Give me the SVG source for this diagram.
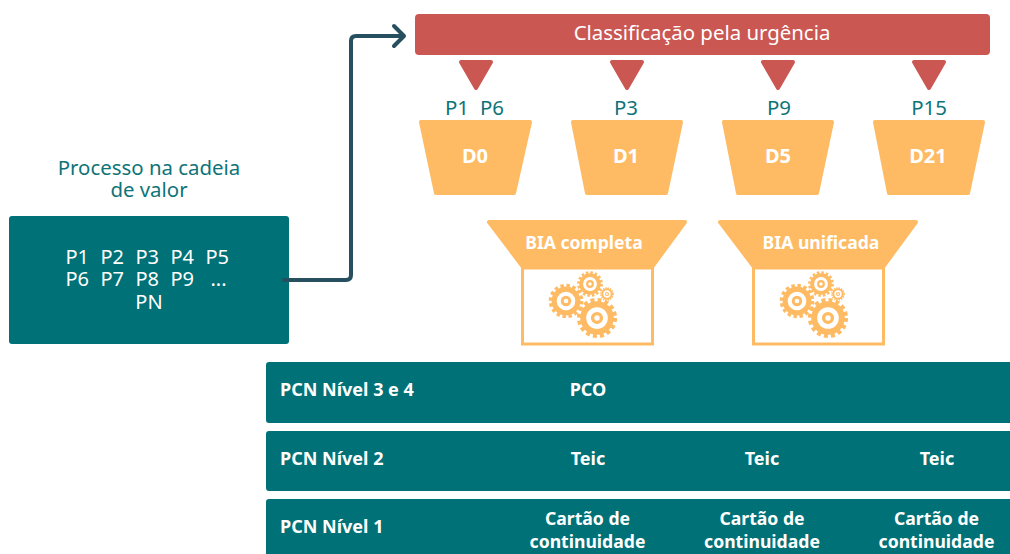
<svg xmlns="http://www.w3.org/2000/svg" width="1010" height="554" viewBox="0 0 1010 554">
<style>
text{font-family:"Noto Sans","Open Sans",sans-serif}
.c{text-anchor:middle}
.teal{fill:#007176}
.tl{fill:#0e7479;font-size:20.4px}
.w{fill:#fff}
.wb{fill:#fff;font-weight:700;font-size:18px}
.wn{fill:#fff;font-weight:700;font-size:17.6px}
.red{fill:#cb5753;stroke:#cb5753;stroke-width:4;stroke-linejoin:round}
.org{fill:#febb64;stroke:#febb64;stroke-width:4;stroke-linejoin:round}
.d{fill:#fff;font-weight:700;font-size:20px}
.box{fill:#fff;stroke:#febb64;stroke-width:3}
.conn{fill:none;stroke:#264f5f;stroke-width:4;stroke-linecap:round;stroke-linejoin:round}
</style>
<defs>
<g id="gear" fill="none" stroke="#febb64">
<circle r="17.8" stroke-width="4.6" stroke-dasharray="3.9 3.09"/>
<circle r="13.8" stroke-width="6"/>
<circle r="4.4" stroke-width="3.4"/>
</g>
<g id="gears">
<use href="#gear" transform="translate(597 318)"/>
<use href="#gear" transform="translate(566 301) scale(.86)"/>
<use href="#gear" transform="translate(590 284) scale(.64)"/>
<use href="#gear" transform="translate(607 294) scale(.34)"/>
</g>
</defs>
<g id="processo">
<text class="c tl" x="149" y="175">Processo na cadeia</text>
<text class="c tl" x="149" y="197">de valor</text>
<rect x="9" y="216" width="280" height="128" rx="3" class="teal"/>
<g class="w" font-size="20">
<text y="264"><tspan x="65.500">P1</tspan><tspan x="100.500">P2</tspan><tspan x="135.500">P3</tspan><tspan x="170.500">P4</tspan><tspan x="205.500">P5</tspan></text>
<text y="286"><tspan x="65.500">P6</tspan><tspan x="100.500">P7</tspan><tspan x="135.500">P8</tspan><tspan x="170.500">P9</tspan><tspan x="210.500">...</tspan></text>
<text class="c" x="149" y="309">PN</text>
</g>
</g>
<g id="classificacao">
<rect x="415" y="14" width="575" height="41" rx="4" fill="#cb5753"/>
<text class="c w" x="702" y="40" font-size="20.4">Classificação pela urgência</text>
</g>
<g id="t0"><path class="red" d="M461 62H491L476 88Z"/><text class="tl" x="445" y="115">P1</text><text class="tl" x="480" y="115">P6</text></g>
<g id="t1"><path class="red" d="M612 62H642L627 88Z"/><text class="c tl" x="626" y="115">P3</text></g>
<g id="t2"><path class="red" d="M763 62H793L778 88Z"/><text class="c tl" x="779" y="115">P9</text></g>
<g id="t3"><path class="red" d="M914 62H944L929 88Z"/><text class="c tl" x="929" y="115">P15</text></g>
<g id="d0"><path class="org" d="M421 122H530L514 193H436Z"/><text class="c d" x="475" y="163">D0</text></g>
<g id="d1"><path class="org" d="M573 122H681L666 193H587Z"/><text class="c d" x="626" y="163">D1</text></g>
<g id="d5"><path class="org" d="M724 122H832L817 193H738Z"/><text class="c d" x="778" y="163">D5</text></g>
<g id="d21"><path class="org" d="M875 122H983L968 193H889Z"/><text class="c d" x="928" y="163">D21</text></g>
<g id="bia-completa">
<rect class="box" x="522.500" y="268" width="130" height="76"/>
<path class="org" d="M489 222H685L652 267H523Z"/>
<text class="c wn" x="584" y="249">BIA completa</text>
<use href="#gears"/>
</g>
<g id="bia-unificada">
<rect class="box" x="753.500" y="268" width="130" height="76"/>
<path class="org" d="M720 222H916L883 267H754Z"/>
<text class="c wn" x="821" y="249">BIA unificada</text>
<use href="#gears" x="231"/>
</g>
<g id="nivel34">
<rect x="266" y="362" width="750" height="61" rx="3" class="teal"/>
<text class="wb" x="280" y="396">PCN Nível 3 e 4</text>
<text class="c wb" x="588" y="396">PCO</text>
</g>
<g id="nivel2">
<rect x="266" y="431" width="750" height="60" rx="3" class="teal"/>
<text class="wb" x="280" y="465">PCN Nível 2</text>
<text class="c wb" x="588" y="465">Teic</text>
<text class="c wb" x="762" y="465">Teic</text>
<text class="c wb" x="937" y="465">Teic</text>
</g>
<g id="nivel1">
<rect x="266" y="499" width="750" height="70" rx="3" class="teal"/>
<text class="wb" x="280" y="533">PCN Nível 1</text>
<text class="c wn" x="587.500" y="525">Cartão de</text><text class="c wn" x="587.500" y="548">continuidade</text>
<text class="c wn" x="762" y="525">Cartão de</text><text class="c wn" x="762" y="548">continuidade</text>
<text class="c wn" x="936.500" y="525">Cartão de</text><text class="c wn" x="936.500" y="548">continuidade</text>
</g>
<g id="connectors">
<path class="conn" d="M284 280H346Q351 280 351 275V41Q351 36 356 36H403"/>
<path class="conn" d="M394 26L404 36L394 46"/>
</g>
</svg>
